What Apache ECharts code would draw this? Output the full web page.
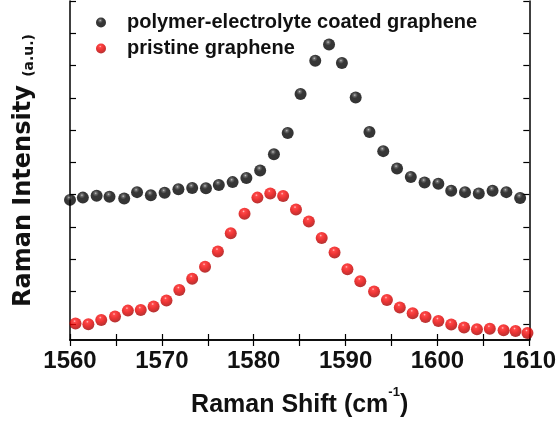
<!DOCTYPE html>
<html>
<head>
<meta charset="utf-8">
<script src="https://cdn.jsdelivr.net/npm/echarts@6/dist/echarts.min.js"></script>
<style>
  html, body { margin: 0; padding: 0; background: #fff; }
  #chart { width: 559px; height: 423px; }
</style>
</head>
<body>
<div id="chart"></div>
<script>
// Raman G-band spectra (arbitrary intensity units)
const coatedShift = [1560.0, 1561.4, 1562.9, 1564.3, 1565.9, 1567.3, 1568.8, 1570.3, 1571.8, 1573.3,
  1574.8, 1576.2, 1577.7, 1579.2, 1580.7, 1582.2, 1583.7, 1585.1, 1586.7, 1588.2,
  1589.6, 1591.1, 1592.6, 1594.1, 1595.6, 1597.1, 1598.6, 1600.1, 1601.5, 1603.0,
  1604.5, 1606.0, 1607.5, 1609.0];
const coatedIntensity = [4.34, 4.41, 4.47, 4.44, 4.38, 4.58, 4.48, 4.56, 4.67, 4.71,
  4.70, 4.80, 4.89, 5.02, 5.25, 5.75, 6.41, 7.62, 8.65, 9.15,
  8.58, 7.51, 6.44, 5.85, 5.31, 5.05, 4.88, 4.84, 4.62, 4.58,
  4.54, 4.62, 4.58, 4.40];

const pristineShift = [1560.6, 1562.0, 1563.4, 1564.9, 1566.3, 1567.7, 1569.1, 1570.5, 1571.9, 1573.3,
  1574.7, 1576.1, 1577.5, 1579.0, 1580.4, 1581.8, 1583.2, 1584.6, 1586.0, 1587.4,
  1588.8, 1590.2, 1591.6, 1593.1, 1594.5, 1595.9, 1597.3, 1598.7, 1600.1, 1601.5,
  1602.9, 1604.3, 1605.7, 1607.2, 1608.5, 1609.8];
const pristineIntensity = [0.51, 0.49, 0.62, 0.73, 0.91, 0.93, 1.04, 1.22, 1.55, 1.90,
  2.27, 2.74, 3.31, 3.91, 4.41, 4.54, 4.46, 4.04, 3.67, 3.16,
  2.71, 2.19, 1.82, 1.50, 1.24, 1.01, 0.83, 0.71, 0.59, 0.48,
  0.39, 0.33, 0.35, 0.30, 0.28, 0.22];

const seriesNames = ['polymer-electrolyte coated graphene', 'pristine graphene'];
const xTickValues = [1560, 1570, 1580, 1590, 1600, 1610];
const yTickValues = [0.5, 1.5, 2.5, 3.5, 4.5, 5.5, 6.5, 7.5, 8.5, 9.5, 10.5];

const zip = (xs, ys) => xs.map((x, i) => [x, ys[i]]);

// shaded "ball" fills
const blackBall = {
  type: 'radial', x: 0.42, y: 0.3, r: 0.7,
  colorStops: [
    { offset: 0, color: '#b8b8b8' },
    { offset: 0.14, color: '#4a4a4a' },
    { offset: 0.38, color: '#050505' },
    { offset: 1, color: '#000' }
  ]
};
const redBall = {
  type: 'radial', x: 0.42, y: 0.3, r: 0.7,
  colorStops: [
    { offset: 0, color: '#ffb8b8' },
    { offset: 0.16, color: '#ff1a1a' },
    { offset: 0.55, color: '#e40000' },
    { offset: 1, color: '#a00000' }
  ]
};

const FONT = '"Liberation Sans", Arial, sans-serif';
const WIDE = '"DejaVu Sans", "Liberation Sans", sans-serif';
const axisLine = { show: true, lineStyle: { color: '#000', width: 1.5 } };
const tick = { show: true, inside: true, length: 6, lineStyle: { color: '#000', width: 1.2 } };

const chart = echarts.init(document.getElementById('chart'), null, { renderer: 'canvas' });
chart.setOption({
  animation: false,
  backgroundColor: '#fff',
  grid: { left: 70, right: 27, top: 1, bottom: 82 },
  legend: {
    orient: 'vertical',
    left: 91,
    top: 7,
    itemWidth: 10,
    itemHeight: 10,
    itemGap: 5,
    icon: 'circle',
    textStyle: { fontFamily: FONT, fontWeight: 'bold', fontSize: 20, color: '#111', lineHeight: 21, padding: [0, 0, 0, 16] },
    data: seriesNames
  },
  xAxis: [
    {
      type: 'value', min: 1560, max: 1610, interval: 5, position: 'bottom',
      axisLine, axisTick: tick, splitLine: { show: false },
      axisLabel: {
        interval: 1, margin: 9, color: '#111',
        fontFamily: FONT, fontWeight: 'bold', fontSize: 24,
        formatter: v => (xTickValues.includes(v) ? String(v) : '')
      },
      name: '{a|Raman Shift (cm}{s|-1}{a|)}',
      nameLocation: 'middle',
      nameGap: 46,
      nameTextStyle: {
        rich: {
          a: { fontFamily: FONT, fontWeight: 'bold', fontSize: 25, color: '#111', lineHeight: 32, verticalAlign: 'bottom' },
          s: { fontFamily: FONT, fontWeight: 'bold', fontSize: 13, color: '#111', lineHeight: 32, verticalAlign: 'top' }
        }
      }
    },
    {
      type: 'value', min: 1560, max: 1610, interval: 5, position: 'top',
      axisLine, axisTick: tick, axisLabel: { show: false }, splitLine: { show: false }
    }
  ],
  yAxis: [
    {
      type: 'value', min: 0, max: 10.5, position: 'left',
      axisLine,
      axisTick: Object.assign({ customValues: yTickValues }, tick),
      axisLabel: { show: false }, splitLine: { show: false },
      name: '{a|Raman Intensity }{b|(a.u.)}',
      nameLocation: 'middle',
      nameRotate: 90,
      nameGap: 34,
      nameTextStyle: {
        rich: {
          a: { fontFamily: WIDE, fontWeight: 'bold', fontSize: 24, color: '#111', lineHeight: 28, verticalAlign: 'bottom' },
          b: { fontFamily: WIDE, fontWeight: 'bold', fontSize: 14, color: '#111', lineHeight: 28, verticalAlign: 'bottom' }
        }
      }
    },
    {
      type: 'value', min: 0, max: 10.5, position: 'right',
      axisLine,
      axisTick: Object.assign({ customValues: yTickValues }, tick),
      axisLabel: { show: false }, splitLine: { show: false }
    }
  ],
  series: [
    {
      name: seriesNames[0], type: 'scatter', symbol: 'circle', symbolSize: 12,
      xAxisIndex: 0, yAxisIndex: 0, clip: true,
      itemStyle: { color: blackBall },
      data: zip(coatedShift, coatedIntensity)
    },
    {
      name: seriesNames[1], type: 'scatter', symbol: 'circle', symbolSize: 12,
      xAxisIndex: 0, yAxisIndex: 0, clip: true,
      itemStyle: { color: redBall },
      data: zip(pristineShift, pristineIntensity)
    }
  ]
});
</script>
</body>
</html>
